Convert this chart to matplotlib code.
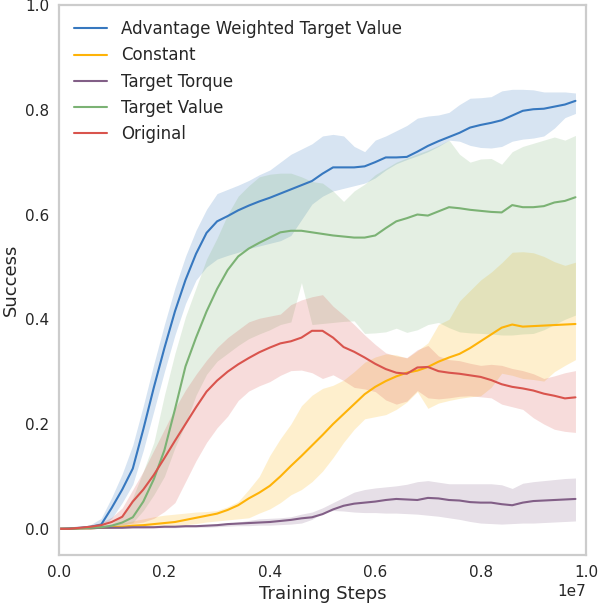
import numpy as np
import matplotlib
matplotlib.use('Agg')
import matplotlib.pyplot as plt
import seaborn as sns

# training steps (millions)
steps_m = [0.0, 0.2, 0.4, 0.6, 0.8, 1.0, 1.2, 1.4, 1.6, 1.8,
           2.0, 2.2, 2.4, 2.6, 2.8, 3.0, 3.2, 3.4, 3.6, 3.8,
           4.0, 4.2, 4.4, 4.6, 4.8, 5.0, 5.2, 5.4, 5.6, 5.8,
           6.0, 6.2, 6.4, 6.6, 6.8, 7.0, 7.2, 7.4, 7.6, 7.8,
           8.0, 8.2, 8.4, 8.6, 8.8, 9.0, 9.2, 9.4, 9.6, 9.8]

# Advantage Weighted Target Value
awtv_mean = [0.000, 0.001, 0.002, 0.004, 0.008, 0.040, 0.075, 0.115, 0.190, 0.270,
             0.345, 0.415, 0.475, 0.525, 0.565, 0.587, 0.597, 0.608, 0.617, 0.625,
             0.632, 0.640, 0.648, 0.656, 0.664, 0.678, 0.690, 0.690, 0.690, 0.692,
             0.700, 0.709, 0.709, 0.710, 0.720, 0.731, 0.740, 0.748, 0.756, 0.766,
             0.771, 0.775, 0.780, 0.789, 0.798, 0.801, 0.802, 0.806, 0.810, 0.817]
awtv_hi = [0.000, 0.002, 0.004, 0.008, 0.020, 0.060, 0.105, 0.160, 0.235, 0.315,
           0.390, 0.460, 0.520, 0.570, 0.610, 0.640, 0.648, 0.656, 0.665, 0.676,
           0.685, 0.700, 0.715, 0.725, 0.735, 0.750, 0.753, 0.750, 0.730, 0.720,
           0.742, 0.750, 0.760, 0.770, 0.784, 0.788, 0.790, 0.795, 0.810, 0.822,
           0.823, 0.825, 0.836, 0.839, 0.839, 0.838, 0.834, 0.834, 0.834, 0.832]
awtv_lo = [0.000, 0.000, 0.001, 0.002, 0.004, 0.020, 0.050, 0.085, 0.150, 0.225,
           0.300, 0.370, 0.430, 0.475, 0.500, 0.515, 0.522, 0.528, 0.535, 0.540,
           0.545, 0.550, 0.560, 0.590, 0.620, 0.635, 0.645, 0.650, 0.655, 0.660,
           0.670, 0.685, 0.697, 0.705, 0.712, 0.720, 0.730, 0.742, 0.740, 0.732,
           0.728, 0.727, 0.730, 0.740, 0.744, 0.746, 0.750, 0.765, 0.785, 0.793]

# Constant
const_mean = [0.000, 0.000, 0.001, 0.001, 0.002, 0.003, 0.004, 0.006, 0.007, 0.009,
              0.011, 0.013, 0.017, 0.021, 0.025, 0.029, 0.036, 0.045, 0.058, 0.069,
              0.082, 0.100, 0.120, 0.139, 0.159, 0.179, 0.200, 0.219, 0.238, 0.257,
              0.271, 0.282, 0.291, 0.298, 0.302, 0.309, 0.319, 0.327, 0.334, 0.345,
              0.358, 0.371, 0.384, 0.390, 0.386, 0.387, 0.388, 0.389, 0.390, 0.391]
const_hi = [0.000, 0.001, 0.002, 0.003, 0.005, 0.008, 0.011, 0.015, 0.019, 0.023,
            0.026, 0.028, 0.030, 0.032, 0.033, 0.035, 0.042, 0.052, 0.075, 0.100,
            0.140, 0.172, 0.200, 0.235, 0.255, 0.268, 0.274, 0.284, 0.300, 0.318,
            0.328, 0.334, 0.332, 0.326, 0.340, 0.355, 0.390, 0.400, 0.435, 0.455,
            0.475, 0.490, 0.508, 0.528, 0.529, 0.527, 0.520, 0.510, 0.503, 0.509]
const_lo = [0.000, 0.000, 0.000, 0.000, 0.001, 0.001, 0.002, 0.002, 0.003, 0.004,
            0.005, 0.006, 0.008, 0.010, 0.013, 0.015, 0.017, 0.019, 0.021, 0.030,
            0.038, 0.050, 0.065, 0.075, 0.090, 0.110, 0.136, 0.165, 0.190, 0.210,
            0.214, 0.218, 0.228, 0.242, 0.262, 0.230, 0.240, 0.245, 0.249, 0.252,
            0.254, 0.270, 0.297, 0.293, 0.287, 0.285, 0.282, 0.300, 0.312, 0.323]

# Target Torque
torque_mean = [0.000, 0.000, 0.001, 0.001, 0.002, 0.002, 0.002, 0.003, 0.003, 0.003,
               0.004, 0.004, 0.005, 0.005, 0.006, 0.007, 0.009, 0.010, 0.011, 0.012,
               0.013, 0.015, 0.017, 0.020, 0.022, 0.028, 0.037, 0.044, 0.048, 0.050,
               0.052, 0.055, 0.057, 0.056, 0.055, 0.059, 0.058, 0.055, 0.054, 0.051,
               0.050, 0.050, 0.047, 0.045, 0.050, 0.053, 0.054, 0.055, 0.056, 0.057]
torque_hi = [0.000, 0.000, 0.001, 0.002, 0.003, 0.003, 0.004, 0.004, 0.005, 0.005,
             0.006, 0.006, 0.007, 0.007, 0.008, 0.009, 0.011, 0.013, 0.016, 0.019,
             0.020, 0.021, 0.023, 0.028, 0.032, 0.040, 0.050, 0.060, 0.070, 0.075,
             0.078, 0.080, 0.082, 0.085, 0.090, 0.092, 0.089, 0.086, 0.086, 0.086,
             0.086, 0.086, 0.084, 0.077, 0.087, 0.090, 0.092, 0.094, 0.096, 0.097]
torque_lo = [0.000, 0.000, 0.000, 0.000, 0.001, 0.001, 0.001, 0.001, 0.001, 0.002,
             0.002, 0.002, 0.003, 0.003, 0.003, 0.004, 0.005, 0.006, 0.006, 0.007,
             0.007, 0.008, 0.009, 0.011, 0.018, 0.030, 0.035, 0.034, 0.032, 0.031,
             0.031, 0.030, 0.030, 0.029, 0.028, 0.026, 0.024, 0.021, 0.018, 0.014,
             0.011, 0.010, 0.009, 0.010, 0.011, 0.011, 0.012, 0.013, 0.014, 0.015]

# Target Value
tv_mean = [0.000, 0.000, 0.001, 0.002, 0.003, 0.006, 0.012, 0.022, 0.052, 0.095,
           0.150, 0.228, 0.310, 0.365, 0.415, 0.458, 0.494, 0.520, 0.535, 0.546,
           0.556, 0.566, 0.569, 0.569, 0.566, 0.563, 0.560, 0.558, 0.556, 0.556,
           0.560, 0.574, 0.587, 0.593, 0.600, 0.598, 0.606, 0.614, 0.612, 0.609,
           0.607, 0.605, 0.604, 0.618, 0.614, 0.614, 0.616, 0.623, 0.626, 0.633]
tv_hi = [0.000, 0.000, 0.002, 0.004, 0.006, 0.010, 0.025, 0.060, 0.110, 0.165,
         0.255, 0.335, 0.405, 0.460, 0.515, 0.555, 0.600, 0.635, 0.655, 0.672,
         0.677, 0.679, 0.679, 0.672, 0.663, 0.660, 0.645, 0.625, 0.645, 0.658,
         0.676, 0.688, 0.700, 0.708, 0.716, 0.723, 0.732, 0.742, 0.715, 0.700,
         0.706, 0.707, 0.696, 0.720, 0.730, 0.736, 0.742, 0.748, 0.742, 0.751]
tv_lo = [0.000, 0.000, 0.000, 0.001, 0.001, 0.002, 0.006, 0.012, 0.035, 0.065,
         0.100, 0.155, 0.200, 0.255, 0.295, 0.320, 0.335, 0.350, 0.363, 0.372,
         0.380, 0.390, 0.395, 0.470, 0.390, 0.392, 0.394, 0.396, 0.397, 0.373,
         0.374, 0.376, 0.383, 0.375, 0.380, 0.390, 0.394, 0.384, 0.376, 0.374,
         0.373, 0.372, 0.370, 0.370, 0.372, 0.373, 0.380, 0.390, 0.400, 0.408]

# Original
orig_mean = [0.000, 0.000, 0.002, 0.004, 0.007, 0.013, 0.023, 0.052, 0.075, 0.103,
             0.135, 0.168, 0.200, 0.232, 0.262, 0.283, 0.300, 0.314, 0.326, 0.337,
             0.346, 0.354, 0.358, 0.365, 0.378, 0.378, 0.365, 0.347, 0.338, 0.327,
             0.315, 0.305, 0.298, 0.296, 0.308, 0.309, 0.301, 0.298, 0.296, 0.293,
             0.290, 0.284, 0.276, 0.271, 0.268, 0.264, 0.258, 0.254, 0.249, 0.251]
orig_hi = [0.000, 0.001, 0.004, 0.007, 0.012, 0.022, 0.040, 0.075, 0.110, 0.150,
           0.190, 0.230, 0.265, 0.295, 0.322, 0.346, 0.365, 0.380, 0.395, 0.402,
           0.406, 0.410, 0.428, 0.437, 0.443, 0.447, 0.425, 0.408, 0.390, 0.370,
           0.352, 0.336, 0.330, 0.327, 0.342, 0.350, 0.330, 0.323, 0.321, 0.316,
           0.312, 0.314, 0.312, 0.306, 0.302, 0.296, 0.287, 0.292, 0.298, 0.302]
orig_lo = [0.000, 0.000, 0.001, 0.002, 0.003, 0.005, 0.008, 0.010, 0.013, 0.020,
           0.033, 0.050, 0.090, 0.130, 0.165, 0.193, 0.215, 0.245, 0.263, 0.273,
           0.281, 0.293, 0.302, 0.303, 0.298, 0.287, 0.294, 0.283, 0.270, 0.267,
           0.262, 0.246, 0.238, 0.244, 0.264, 0.250, 0.248, 0.250, 0.253, 0.254,
           0.252, 0.250, 0.238, 0.233, 0.228, 0.212, 0.200, 0.190, 0.186, 0.184]

labels = ['Advantage Weighted Target Value', 'Constant', 'Target Torque',
          'Target Value', 'Original']

sns.set_style('white')
colors = sns.xkcd_palette(['windows blue', 'amber', 'dusty purple',
                           'faded green', 'pale red'])

steps = np.array(steps_m) * 1e6
series = [(awtv_mean, awtv_lo, awtv_hi),
          (const_mean, const_lo, const_hi),
          (torque_mean, torque_lo, torque_hi),
          (tv_mean, tv_lo, tv_hi),
          (orig_mean, orig_lo, orig_hi)]

fig = plt.figure(figsize=(5.98, 6.04), dpi=100)
ax = fig.add_axes([59 / 598, 1 - 555 / 604, 527 / 598, 550 / 604])

for (m, lo, hi), c, lab in zip(series, colors, labels):
    ax.fill_between(steps, lo, hi, color=c, alpha=0.2, linewidth=0)
    ax.plot(steps, m, color=c, linewidth=1.5, label=lab)

ax.set_xlim(0, 1e7)
ax.set_ylim(-0.05, 1.0)
ax.set_xlabel('Training Steps', fontsize=13, color='0.15')
ax.set_ylabel('Success', fontsize=13, color='0.15')
ax.tick_params(labelsize=11, colors='0.15')
ax.xaxis.get_offset_text().set_fontsize(11)

# light grey frame like the old seaborn white style
for sp in ax.spines.values():
    sp.set_color('0.8')
    sp.set_linewidth(1.6)

ax.legend(loc='upper left', fontsize=12, frameon=False)

plt.savefig('out.png', dpi=100)
